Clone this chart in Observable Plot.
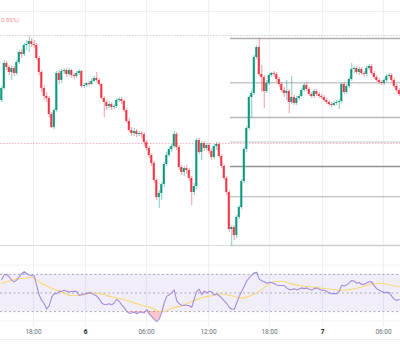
<!DOCTYPE html>
<html><head><meta charset="utf-8">
<script src="https://cdn.jsdelivr.net/npm/d3@7"></script>
<script src="https://cdn.jsdelivr.net/npm/@observablehq/plot@0.6"></script>
<style>
html,body{margin:0;padding:0;background:#fff;overflow:hidden;width:400px;height:355px}
#chart svg{display:block}
</style></head><body><div id="chart"></div>
<script>
// ---- data (price units arbitrary) ----
const firstOpen = 150;
const closes = [162,187,183,178,182,177,188,198,196,205,
206,209,206,205,192,178,162,154,152,136,
123,140,177,170,179,180,176,180,175,174,
177,179,164,165,167,166,169,172,170,166,
152,148,144,146,143,144,150,151,149,140,
129,120,117,119,116,117,116,108,102,95,
87,70,53,57,66,86,95,101,104,116,
103,83,78,82,80,72,58,64,110,98,
107,102,105,99,93,104,106,94,84,72,
58,21,23,15,33,43,69,101,122,153,
157,193,203,176,173,159,167,175,177,176,
171,166,160,157,159,148,153,147,152,154,
160,165,161,156,154,159,156,154,153,150,
148,146,145,147,148,149,166,158,164,171,
181,182,178,181,177,176,182,184,177,173,
170,168,167,170,174,175,170,164,160,156];
const highs = [164,190,189,185,184,184,190,200,201,207,
210,214,212,210,207,194,180,165,158,154,
138,142,179,180,181,182,182,182,181,177,
179,181,180,167,168,169,171,174,178,172,
167,154,150,149,148,146,152,153,153,151,
142,132,123,122,121,119,119,118,110,104,
97,89,72,60,68,88,98,103,106,119,
118,105,85,84,85,82,74,67,112,112,
109,109,107,107,102,106,108,108,96,86,
74,60,25,25,35,45,71,103,124,155,
160,195,205,212,185,175,170,177,178,179,
178,173,168,163,170,161,174,155,154,156,
162,167,168,163,158,161,161,158,156,155,
152,150,148,149,150,151,168,168,166,173,
187,184,184,183,183,179,184,186,186,179,
175,172,170,172,176,177,177,172,166,162];
const lows = [148,160,180,175,170,174,175,186,192,194,
200,198,203,202,190,175,158,150,148,132,
122,121,138,166,167,176,173,174,172,171,
172,175,162,162,163,164,165,168,168,164,
150,133,140,142,140,141,142,148,146,138,
127,118,114,114,113,114,112,104,100,92,
84,67,50,42,50,63,84,93,98,102,
100,80,75,74,76,69,45,55,61,96,
90,99,100,96,90,91,100,92,82,70,
55,18,5,10,12,31,41,67,98,120,
132,155,191,174,158,142,157,165,173,173,
168,163,158,153,150,137,146,145,145,150,
153,158,159,154,152,152,154,152,151,148,
146,144,143,144,145,141,147,156,156,162,
169,177,176,175,175,173,174,180,175,171,
168,166,165,165,168,172,168,162,158,154];
const rsi = [64.5,69.3,70,67.1,63.8,62,63.8,67.5,70.7,72.9,
70.7,69.3,68.5,68.5,57.6,47.5,42,38.4,32.9,36.5,
45.6,49.3,49.3,51.8,51.8,52.9,51.8,51.1,51.8,51.8,
51.8,47.5,48.2,48.9,49.6,50.4,49.6,48.2,46.7,43.5,
39.1,37.6,37.6,38.4,37.3,39.5,43.1,40.9,37.3,34.4,
30,28.2,28.5,29.3,27.8,29.3,29.3,28.5,32.2,27.5,
24.5,21.6,19.5,22,29.3,39.5,46.4,48.2,50.4,53.3,
41.6,38.4,36.5,36.9,36.9,36.2,34.7,43.8,51.8,54,
48.2,52.2,50,51.8,51.1,47.8,48.9,47.1,44.5,41.6,
38.7,34.7,32.5,32.5,39.5,46.4,51.8,57.3,63.1,66.4,
69.3,71.5,72.2,64.9,63.1,62,60.5,61.3,61.3,60.2,
58.7,58,58,58,55.5,53.6,53.6,54.7,53.3,54.4,
55.5,54.7,55.5,54,53.3,54.7,55.5,54,52.9,52.9,
51.5,50,49.3,49.3,49.3,51.8,58.4,57.6,58.7,60.9,
63.5,62.7,60.5,61.3,59.1,59.5,60.9,62,62,57.6,
54.7,52.9,51.5,50.4,50.7,50.4,46.4,43.5,42,43.1];
const rsiMaIdx = [0,4,8,12,16,20,24,28,32,36,40,44,48,52,56,60,64,68,72,76,80,84,88,92,96,100,104,108,112,116,120,124,128,132,136,140,144,148,152,156,159];
const rsiMa = [60.5,63.8,65.6,66.7,60.2,55.1,51.1,47.1,47.8,50,
48.9,46,43.5,40.2,36.9,34,29.5,33.6,36.2,40.9,
44.9,47.1,48.9,47.1,44.5,47.5,53.6,61.6,62.7,59.8,
57.6,56.5,55.1,54,52.9,54,56.5,59.5,60.2,58.4,56.5];
const fibLow = 5, fibHigh = 212, fibStartIdx = 92;
const fibRatios = [0, 0.236, 0.382, 0.5, 0.618, 0.786, 1];
const priceLines = {gridTop: 239, dottedHigh: 215, lastRef: 107, paneBase: 5};
const tickIdx = [13.2, 34, 58.4, 83.2, 107.6, 128.8, 153.2];
const tickLabels = ["18:00", "6", "06:00", "12:00", "18:00", "7", "06:00"];
const tickIsDay = [false, true, false, false, false, true, false];
const changeLabel = "0.85%)";

// ---- build rows ----
const N = closes.length;
const candles = closes.map((c, i) => ({i, open: i ? closes[i - 1] : firstOpen, close: c, high: highs[i], low: lows[i]}));
const fibs = fibRatios.map(r => ({r, v: fibLow + r * (fibHigh - fibLow)}));
const fibColor = {0: "#c9cbd0", 0.236: "#bfc1c6", 0.382: "#8f9297", 0.5: "#d9d9dc", 0.618: "#b4b6bb", 0.786: "#c6c8cc", 1: "#aeb0b5"};
const rsiRows = rsi.map((v, i) => ({i, v}));
const maRows = rsiMa.map((v, k) => ({i: rsiMaIdx[k], v}));
const ticks = tickIdx.map((t, k) => ({t, label: tickLabels[k], day: tickIsDay[k]}));
const GREEN = "#089981", RED = "#f23645";
const col = d => d.close >= d.open ? GREEN : RED;

const main = Plot.plot({
  width: 400, height: 246, margin: 0,
  style: {fontFamily: "Roboto, sans-serif", background: "white", overflow: "visible"},
  x: {domain: [0, N], axis: null},
  y: {domain: [4, 250], axis: null},
  color: {type: "identity"},
  marks: [
    Plot.ruleX(ticks, {x: "t", stroke: "#eef0f3"}),
    Plot.ruleY([priceLines.gridTop], {stroke: "#eceef1"}),
    Plot.ruleY([priceLines.dottedHigh], {stroke: "#d8c9cd", strokeDasharray: "1.5,1.5"}),
    Plot.ruleY([priceLines.paneBase], {stroke: "#d9dbe0"}),
    Plot.ruleY(fibs, {y: "v", x1: fibStartIdx, x2: N, stroke: d => fibColor[d.r], strokeWidth: 1.4}),
    Plot.ruleY([priceLines.lastRef], {stroke: "#f4b3b9", strokeDasharray: "1.5,1.5"}),
    Plot.ruleX(candles, {x: d => d.i + 0.5, y1: "low", y2: "high", stroke: col, strokeOpacity: 0.5}),
    Plot.rect(candles, {x1: d => d.i + 0.1, x2: d => d.i + 0.9, y1: "open", y2: "close", fill: col}),
    Plot.text([changeLabel], {frameAnchor: "top-left", dx: 0.5, dy: 17, textAnchor: "start", fill: RED, fillOpacity: 0.6, fontSize: 6})
  ]
});

const rsiPlot = Plot.plot({
  width: 400, height: 109, marginTop: 0, marginBottom: 16, marginLeft: 0, marginRight: 0,
  style: {fontFamily: "Roboto, sans-serif", background: "white", overflow: "visible"},
  x: {domain: [0, N], axis: null},
  y: {domain: [0, 100], axis: null},
  marks: [
    Plot.ruleX(ticks, {x: "t", y1: 100, y2: 14, stroke: "#eef0f3"}),
    Plot.ruleY([80, 20], {stroke: "#f1f2f5"}),
    Plot.rect([0], {x1: 0, x2: N, y1: 30, y2: 70, fill: "#7e57c2", fillOpacity: 0.1}),
    Plot.ruleY([70, 50, 30], {stroke: "#a7a9b1", strokeDasharray: "2,2.5"}),
    Plot.areaY(rsiRows, {x: d => d.i + 0.5, y1: 30, y2: d => Math.min(d.v, 30), fill: RED, fillOpacity: 0.28}),
    Plot.areaY(rsiRows, {x: d => d.i + 0.5, y1: 70, y2: d => Math.max(d.v, 70), fill: GREEN, fillOpacity: 0.25}),
    Plot.line(maRows, {x: d => d.i + 0.5, y: "v", stroke: "#f6d878", strokeWidth: 1.1, curve: "monotone-x"}),
    Plot.line(rsiRows, {x: d => d.i + 0.5, y: "v", stroke: "#a58bdb", strokeWidth: 1.1}),
    Plot.ruleY([0], {stroke: "#eceef1"}),
    Plot.text(ticks.filter(d => !d.day), {x: "t", text: "label", frameAnchor: "bottom", dy: -6, fill: "#6a6d78", fontSize: 6.5}),
    Plot.text(ticks.filter(d => d.day), {x: "t", text: "label", frameAnchor: "bottom", dy: -6, fill: "#131722", fontSize: 6.5, fontWeight: "bold"})
  ]
});

const root = document.getElementById("chart");
root.append(main, rsiPlot);
</script></body></html>
